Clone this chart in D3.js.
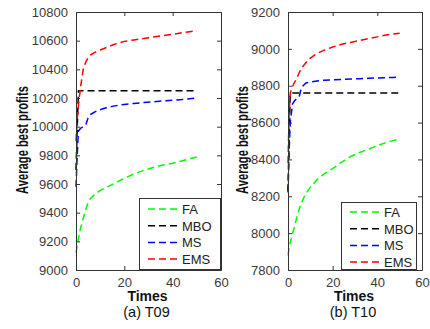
<!DOCTYPE html>
<html>
<head>
<meta charset="utf-8">
<script src="https://cdn.jsdelivr.net/npm/d3@7"></script>
<style>
  body { margin: 0; background: #fff; }
  svg { display: block; font-family: "Liberation Sans", Arial, sans-serif; }
</style>
</head>
<body>
<div class="chart"></div>
<script>
// iteration samples (same for both panels)
var times = [0, 0.5, 1, 2, 3, 4, 5, 6, 8, 10, 13, 16, 20, 24, 28, 32, 36, 40, 44, 47, 50];

// (a) T09
var t09FA  = [9120, 9170, 9220, 9300, 9360, 9420, 9470, 9500, 9530, 9555, 9580, 9605, 9640, 9670, 9695, 9715, 9732, 9745, 9762, 9775, 9788];
var t09MBO = [9700, 9980, 10250, 10250, 10250, 10250, 10250, 10250, 10250, 10250, 10250, 10250, 10250, 10250, 10250, 10250, 10250, 10250, 10250, 10250, 10250];
var t09MS  = [9580, 9800, 9970, 9990, 10000, 10010, 10060, 10085, 10105, 10118, 10135, 10145, 10155, 10162, 10168, 10174, 10180, 10185, 10190, 10195, 10200];
var t09EMS = [9900, 10050, 10150, 10290, 10400, 10450, 10480, 10500, 10520, 10535, 10555, 10575, 10595, 10605, 10615, 10625, 10635, 10645, 10655, 10662, 10670];

// (b) T10
var t10FA  = [7880, 7920, 7950, 7995, 8040, 8088, 8130, 8165, 8215, 8250, 8290, 8320, 8350, 8385, 8415, 8438, 8455, 8475, 8492, 8502, 8512];
var t10MBO = [8230, 8500, 8755, 8760, 8760, 8760, 8760, 8760, 8760, 8760, 8760, 8760, 8760, 8760, 8760, 8760, 8760, 8760, 8760, 8760, 8760];
var t10MS  = [8220, 8450, 8600, 8700, 8720, 8730, 8740, 8790, 8815, 8820, 8825, 8830, 8832, 8834, 8836, 8838, 8840, 8842, 8844, 8845, 8846];
var t10EMS = [8380, 8650, 8760, 8795, 8820, 8842, 8870, 8895, 8925, 8950, 8975, 8992, 9010, 9025, 9035, 9045, 9055, 9065, 9075, 9080, 9085];

var seriesNames = ['FA', 'MBO', 'MS', 'EMS'];
var seriesColors = ['#00ff00', '#000000', '#0000ff', '#ff0000'];
var xTicks = [0, 20, 40, 60];
var t09Ticks = [9000, 9200, 9400, 9600, 9800, 10000, 10200, 10400, 10600, 10800];
var t10Ticks = [7800, 8000, 8200, 8400, 8600, 8800, 9000, 9200];

var panels = [
  { left: 76, right: 221, top: 12, bottom: 270, yTicks: t09Ticks,
    series: [t09FA, t09MBO, t09MS, t09EMS], caption: '(a) T09',
    ylabX: 28, legend: { x: 139, y: 198, w: 82, h: 72, first: 11 } },
  { left: 288, right: 422, top: 12, bottom: 270, yTicks: t10Ticks,
    series: [t10FA, t10MBO, t10MS, t10EMS], caption: '(b) T10',
    ylabX: 248, legend: { x: 341, y: 202, w: 76, h: 68, first: 10 } }
];

var svg = d3.select('.chart')
  .append('svg')
  .attr('width', 430)
  .attr('height', 329);

panels.forEach(function(p) {
  var x = d3.scaleLinear().domain([0, 60]).range([p.left, p.right]);
  var y = d3.scaleLinear()
    .domain([d3.min(p.yTicks), d3.max(p.yTicks)])
    .range([p.bottom, p.top]);

  var g = svg.append('g');

  // lines
  var line = d3.line()
    .x(function(d, i) { return x(times[i]); })
    .y(function(d) { return y(d); });

  p.series.forEach(function(vals, k) {
    g.append('path')
      .attr('d', line(vals))
      .style('fill', 'none')
      .style('stroke', seriesColors[k])
      .style('stroke-width', 1.5)
      .style('stroke-dasharray', '7,4')
      .style('stroke-linejoin', 'round');
  });

  // axes (matlab style box with inward ticks)
  var axB = g.append('g').attr('transform', 'translate(0,' + p.bottom + ')')
    .call(d3.axisBottom(x).tickValues(xTicks).tickSizeInner(-4).tickSizeOuter(0).tickPadding(8).tickFormat(d3.format('d')));
  var axT = g.append('g').attr('transform', 'translate(0,' + p.top + ')')
    .call(d3.axisTop(x).tickValues(xTicks).tickSizeInner(-4).tickSizeOuter(0).tickFormat(''));
  var axL = g.append('g').attr('transform', 'translate(' + p.left + ',0)')
    .call(d3.axisLeft(y).tickValues(p.yTicks).tickSizeInner(-4).tickSizeOuter(0).tickPadding(8).tickFormat(d3.format('d')));
  var axR = g.append('g').attr('transform', 'translate(' + p.right + ',0)')
    .call(d3.axisRight(y).tickValues(p.yTicks).tickSizeInner(-4).tickSizeOuter(0).tickFormat(''));

  [axB, axT, axL, axR].forEach(function(a) {
    a.select('.domain').attr('stroke', '#333');
    a.selectAll('.tick line').attr('stroke', '#333');
    a.selectAll('.tick text')
      .attr('fill', '#3a3a3a')
      .style('font-size', '13px')
      .style('font-family', '"Liberation Sans", Arial, sans-serif');
  });

  // legend
  var L = p.legend;
  var lg = g.append('g');
  lg.append('rect')
    .attr('x', L.x + 0.5).attr('y', L.y + 0.5)
    .attr('width', L.w - 1).attr('height', L.h - 1)
    .style('fill', '#fff')
    .style('stroke', '#333');
  seriesNames.forEach(function(name, k) {
    var ly = L.y + L.first + k * 16.7;
    lg.append('line')
      .attr('x1', L.x + 9).attr('x2', L.x + 41)
      .attr('y1', ly).attr('y2', ly)
      .style('stroke', seriesColors[k])
      .style('stroke-width', 1.5)
      .style('stroke-dasharray', '7,4');
    lg.append('text')
      .attr('x', L.x + 43).attr('y', ly + 5)
      .style('font-size', '13px')
      .style('fill', '#222')
      .text(name);
  });

  // labels
  var cx = (p.left + p.right) / 2;
  g.append('text')
    .attr('transform', 'translate(' + p.ylabX + ',' + ((p.top + p.bottom) / 2 - 1) + ') rotate(-90) scale(0.7,1)')
    .attr('text-anchor', 'middle')
    .style('font-size', '16px')
    .style('font-weight', 'bold')
    .style('fill', '#111')
    .text('Average best profits');

  g.append('text')
    .attr('x', cx - 1).attr('y', 301)
    .attr('text-anchor', 'middle')
    .style('font-size', '14px')
    .style('font-weight', 'bold')
    .style('fill', '#111')
    .text('Times');

  g.append('text')
    .attr('x', cx - 2).attr('y', 317)
    .attr('text-anchor', 'middle')
    .style('font-size', '14.5px')
    .style('fill', '#111')
    .text(p.caption);
});
</script>
</body>
</html>
